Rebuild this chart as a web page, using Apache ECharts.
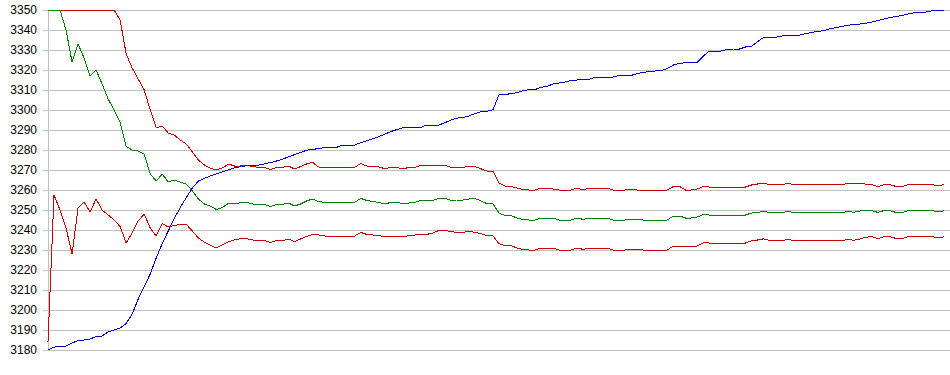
<!DOCTYPE html>
<html>
<head>
<meta charset="utf-8">
<script src="https://cdn.jsdelivr.net/npm/echarts@6/dist/echarts.min.js"></script>
<style>
html,body{margin:0;padding:0;background:#fff;}
#chart{width:950px;height:375px;}
#chart svg path{shape-rendering:crispEdges;}
</style>
</head>
<body>
<div id="chart"></div>
<script>
// y-axis tick values
var yTicks = [3180,3190,3200,3210,3220,3230,3240,3250,3260,3270,3280,3290,3300,3310,3320,3330,3340,3350];

// upper band (red)
var upperBand = [
3350,3350,3350,3350,3350,3350,3350,3350,3350,3350,3350,3350,3345,3328,3321,3315.5,3310,3300,3291,3292,
3288.5,3287.5,3285,3283,3279,3275,3272.5,3271,3270,3271,3273,3272,3272,3272.3,3271.8,3271.3,3271.3,3270.3,3271.3,3271.3,
3272,3270.5,3271.7,3273,3273.8,3271.5,3271.3,3271.3,3271.3,3271.3,3271.3,3271.3,3273.3,3272,3271.7,3271.5,3270.7,3271.3,3271.3,3270.5,
3271.3,3271.3,3272.3,3272.3,3272.3,3272.3,3272.3,3271.3,3271.3,3271.3,3272,3271.7,3270.6,3269.5,3269.3,3263.5,3262,3261.8,3261,3260.3,
3260,3260,3261,3261,3260.5,3260,3260,3260,3261,3260,3261,3261,3261,3261,3260,3260,3260,3260.5,3260,3260,
3260,3260,3260,3260,3261.8,3261.8,3260,3260,3260.5,3261.8,3261.5,3261.5,3261.5,3261.5,3261.5,3261.5,3261.5,3262.5,3263,3263.5,
3262.7,3262.7,3262.7,3263.3,3262.8,3262.7,3262.7,3262.7,3262.7,3262.7,3262.7,3262.7,3262.7,3263.2,3263,3263.5,3262.9,3262.7,3261.7,3262.7,
3262.7,3261.8,3261.5,3262.7,3262.7,3262.7,3262.7,3262.7,3262,3262.8
];

// middle line (green)
var middleLine = [
3350,3350,3350,3340,3324,3333,3326,3317,3320,3313,3305.5,3300,3294,3281.7,3280,3279.5,3278,3268,3264.5,3268,
3264,3265,3264,3263,3259.5,3255.5,3253,3252,3250.2,3251.3,3253.3,3253,3253.6,3253.8,3253,3252.8,3252.8,3251.8,3252.8,3252.8,
3253.5,3252,3253,3254.5,3255.5,3254.2,3253.8,3253.8,3253.8,3253.8,3253.8,3253.8,3255.8,3254.8,3254.2,3253.8,3253,3253.8,3253.8,3253.3,
3253.5,3253.8,3254.8,3254.8,3254.8,3255.8,3255.8,3254.9,3255,3255,3255.5,3255.8,3254.5,3253.2,3253,3248.5,3247.2,3247.2,3246,3245.3,
3245,3245,3246,3246,3246,3245,3245,3245,3246,3245.3,3246,3246,3246,3246,3245,3245,3245,3245.5,3245.2,3245,
3245,3245,3245,3245,3247,3247,3246,3246,3246.5,3247.8,3247.5,3247.5,3247.5,3247.5,3247.5,3247.5,3247.5,3248.5,3248.7,3249.5,
3248.7,3248.7,3248.7,3249.3,3248.8,3248.7,3248.7,3248.7,3248.7,3248.7,3248.7,3248.7,3248.7,3249.2,3248.9,3249.5,3249.7,3249.7,3248.8,3249.7,
3249.7,3248.8,3248.7,3249.7,3249.7,3249.7,3249.7,3249.7,3249,3249.6
];

// lower band (red)
var lowerBand = [
3184,3257.5,3250,3241,3228,3251,3254,3249,3255.5,3250,3247.5,3245,3241.7,3233.5,3238.5,3244.5,3248,3241,3237,3243.2,
3241.5,3242.3,3242.8,3242.8,3239.5,3236,3234,3232.5,3231,3232.5,3234.2,3235,3235.7,3235.7,3235,3234.7,3234.7,3233.8,3234.7,3234.7,
3235.5,3234.2,3235.5,3236.8,3237.8,3237.5,3237,3237,3237,3237,3237,3237,3238.8,3237.8,3237.5,3237.3,3236.5,3237,3237,3236.5,
3237.2,3237.5,3237.8,3237.8,3238.5,3239.8,3239.8,3239.2,3238.8,3238.8,3239.4,3238.8,3238.2,3237.2,3237,3233.2,3232.2,3232.2,3231,3230.3,
3230,3230,3231,3231,3231,3230,3230,3230,3231,3230.3,3231,3231,3231,3231,3230,3230,3230,3230.5,3230.2,3230,
3230,3230,3230,3230,3232,3232,3232,3232,3232,3233.6,3233.5,3233.5,3233.5,3233.5,3233.5,3233.5,3233.5,3234.6,3235,3235.6,
3234.7,3234.7,3234.7,3235.3,3234.8,3234.7,3234.7,3234.7,3234.7,3234.7,3234.7,3234.7,3234.7,3235.2,3234.9,3235.5,3236.4,3236.7,3235.7,3236.7,
3236.7,3235.8,3235.7,3236.7,3236.7,3236.7,3236.7,3236.7,3236,3236.6
];

// rising line (blue)
var risingLine = [
3180,3181.4,3182,3182,3183.5,3184.7,3185,3185.5,3186.7,3187,3189,3190,3191,3193.3,3198,3205.5,3211.5,3218,3226,3233.2,
3239.5,3245.7,3251.3,3256.2,3261,3264.5,3265.8,3267,3268,3269,3270,3271,3271.7,3272.1,3272.2,3272.4,3273.1,3273.7,3274.5,3275.4,
3276.6,3277.7,3278.7,3279.9,3280.3,3280.7,3281.3,3281.3,3281.3,3282.5,3282.5,3282.5,3283.7,3284.6,3285.6,3286.7,3287.9,3289.2,3290.2,3291.1,
3291.3,3291.3,3291.3,3292.5,3292.5,3292.5,3293.6,3295,3295.9,3296.3,3297,3298.2,3299.2,3299.4,3300.1,3307.5,3307.7,3308.2,3308.7,3309.7,
3310.2,3310.2,3311.4,3311.8,3313,3313.5,3314,3314.7,3315,3315.2,3315.3,3316.3,3316.3,3316.3,3316.5,3317.3,3317.3,3317.3,3318.2,3318.8,
3319.3,3319.5,3319.8,3320.7,3322.5,3323.3,3323.6,3323.7,3323.9,3327,3329.5,3329.5,3329.5,3330.4,3330.5,3330.5,3331.5,3331.8,3334.2,3336.3,
3336.3,3336.3,3337,3337.5,3337.5,3337.5,3338.2,3338.8,3339.3,3339.7,3340.6,3341.2,3341.8,3342.4,3342.7,3343,3343.4,3344,3344.7,3345.5,
3346.2,3346.7,3347.2,3348,3348.6,3348.8,3349,3349.6,3349.7,3350
];

function pairs(arr){ return arr.map(function(v,i){ return [i, v]; }); }

var chart = echarts.init(document.getElementById('chart'), null, {renderer:'svg'});
var n = risingLine.length;
function lineSeries(name, arr, color){
  return {
    name: name, type: 'line', data: pairs(arr), showSymbol: false, symbol: 'none',
    lineStyle: {color: color, width: 1}, itemStyle: {color: color},
    animation: false, clip: false, z: 3
  };
}
chart.setOption({
  animation: false,
  backgroundColor: '#ffffff',
  grid: {left: 43, right: 0, top: 10, bottom: 25, containLabel: false},
  xAxis: {
    type: 'value', min: -0.83, max: (n - 1) + 1.0,
    show: true,
    axisLine: {show: false}, axisTick: {show: false}, axisLabel: {show: false},
    splitLine: {show: false}
  },
  yAxis: {
    type: 'value', min: yTicks[0], max: yTicks[yTicks.length - 1], interval: 10,
    axisLine: {show: true, lineStyle: {color: '#c0c0c0', width: 1}},
    axisTick: {show: false},
    axisLabel: {color: '#000000', fontFamily: 'Liberation Sans, Arial, sans-serif', fontSize: 12, margin: 6,
      formatter: function(v){ return String(v); }},
    splitLine: {show: true, lineStyle: {color: '#c0c0c0', width: 1}}
  },
  series: [
    lineSeries('upper', upperBand, '#cc0000'),
    lineSeries('middle', middleLine, '#008000'),
    lineSeries('lower', lowerBand, '#cc0000'),
    lineSeries('rising', risingLine, '#0000cc')
  ]
});
</script>
</body>
</html>
